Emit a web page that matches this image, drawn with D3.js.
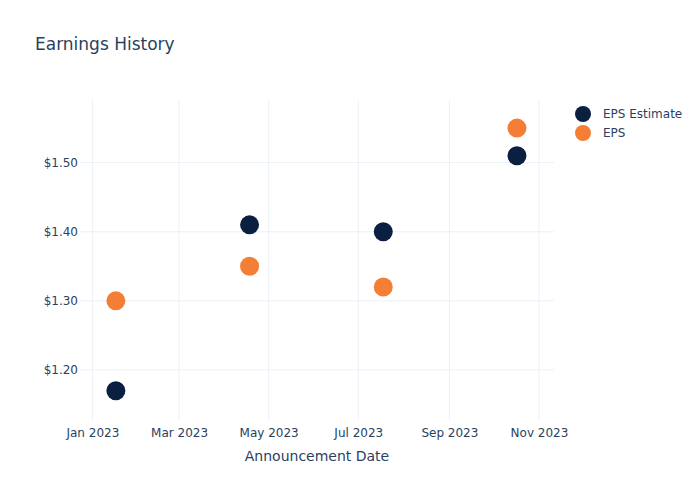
<!DOCTYPE html>
<html><head><meta charset="utf-8">
<script src="https://cdn.jsdelivr.net/npm/d3@7"></script>
<style>body{margin:0;background:#fff}svg{font-family:"DejaVu Sans",Verdana,sans-serif}</style>
</head><body><svg id="c" width="700" height="500"></svg>
<script>
const dates = ["2023-01-17","2023-04-18","2023-07-18","2023-10-17"];
const epsEstimate = [1.17, 1.41, 1.40, 1.51];
const eps = [1.30, 1.35, 1.32, 1.55];
const yTicks = [1.20, 1.30, 1.40, 1.50];
const seriesNames = ["EPS Estimate", "EPS"];
const colors = ["#0b1f41", "#f57e37"];

const svg = d3.select("#c");
const W = 700, H = 500, m = {l:80, r:146, t:100, b:80};
const parse = d3.timeParse("%Y-%m-%d");
const x = d3.scaleTime()
  .domain([new Date(2022, 11, 23, 14), new Date(2023, 10, 11, 5)])
  .range([m.l, W - m.r]);
const y = d3.scaleLinear().domain([1.1276, 1.5907]).range([H - m.b, m.t]);
const textColor = "#2a3f5f", grid = "#ebf0f8";
const FONT = '"DejaVu Sans",Verdana,sans-serif';

// grid
const xt = x.ticks(d3.timeMonth.every(2));
svg.append("g").selectAll("line").data(xt).join("line")
  .attr("x1", d => x(d)).attr("x2", d => x(d))
  .attr("y1", m.t).attr("y2", H - m.b).attr("stroke", grid).attr("stroke-width", 1);
svg.append("g").selectAll("line").data(yTicks).join("line")
  .attr("x1", m.l).attr("x2", W - m.r)
  .attr("y1", d => y(d)).attr("y2", d => y(d)).attr("stroke", grid).attr("stroke-width", 1);

// axes
const xAxis = d3.axisBottom(x).tickValues(xt).tickFormat(d3.timeFormat("%b %Y")).tickSize(0).tickPadding(8);
const gx = svg.append("g").attr("transform", `translate(0,${H - m.b})`).call(xAxis)
  .attr("font-family", FONT).attr("font-size", 12);
gx.select(".domain").remove();
gx.selectAll("text").attr("fill", textColor);

const yAxis = d3.axisLeft(y).tickValues(yTicks).tickFormat(d => "$" + d3.format(".2f")(d)).tickSize(0).tickPadding(2);
const gy = svg.append("g").attr("transform", `translate(${m.l},0)`).call(yAxis)
  .attr("font-family", FONT).attr("font-size", 12);
gy.select(".domain").remove();
gy.selectAll("text").attr("fill", textColor);

// points
const series = [epsEstimate, eps];
series.forEach((vals, i) => {
  svg.append("g").selectAll("circle").data(vals).join("circle")
    .attr("cx", (d, j) => x(parse(dates[j])))
    .attr("cy", d => y(d))
    .attr("r", 9.5)
    .attr("fill", colors[i]);
});

// title
svg.append("text").attr("x", 35).attr("y", 50).text("Earnings History")
  .attr("fill", textColor).style("font-size", "17px");
svg.append("text").attr("x", (m.l + W - m.r) / 2).attr("y", 461).attr("text-anchor", "middle")
  .text("Announcement Date").attr("fill", textColor).style("font-size", "14px");

// legend
const lg = svg.append("g");
seriesNames.forEach((n, i) => {
  const yy = 114 + i * 19;
  lg.append("circle").attr("cx", 583).attr("cy", yy).attr("r", 8).attr("fill", colors[i]);
  lg.append("text").attr("x", 603).attr("y", yy + 4).text(n).attr("fill", textColor).style("font-size", "12px");
});
</script></body></html>
